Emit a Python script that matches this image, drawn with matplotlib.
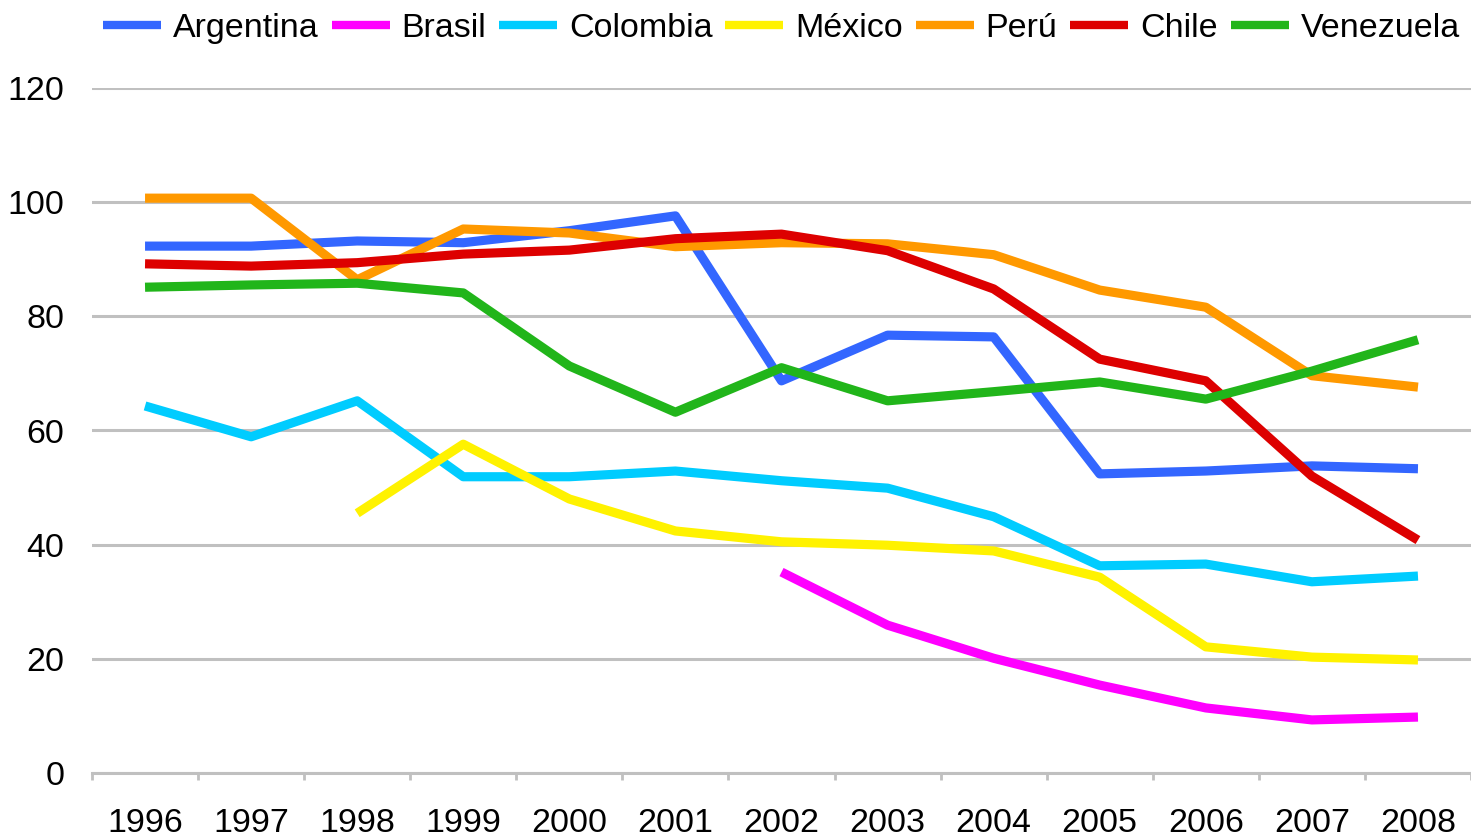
import numpy as np
from matplotlib import pyplot as plt

plt.rcParams['font.family'] = ['Liberation Sans', 'DejaVu Sans']

years = ['1996', '1997', '1998', '1999', '2000', '2001', '2002',
         '2003', '2004', '2005', '2006', '2007', '2008']

nan = np.nan
argentina = [92.3, 92.3, 93.2, 92.9, 95.0, 97.6, 68.7, 76.7, 76.4, 52.4, 52.9, 53.8, 53.3]
brasil = [nan, nan, nan, nan, nan, nan, 35.2, 25.9, 20.1, 15.4, 11.4, 9.3, 9.8]
colombia = [64.3, 58.9, 65.2, 51.9, 51.9, 52.9, 51.2, 49.9, 44.9, 36.3, 36.6, 33.5, 34.5]
mexico = [nan, nan, 45.5, 57.6, 48.0, 42.4, 40.5, 39.9, 38.9, 34.3, 22.1, 20.3, 19.8]
peru = [100.7, 100.7, 86.4, 95.3, 94.6, 92.2, 92.9, 92.7, 90.8, 84.6, 81.6, 69.6, 67.6]
chile = [89.2, 88.8, 89.4, 90.9, 91.6, 93.6, 94.4, 91.5, 84.8, 72.5, 68.7, 52.0, 40.8]
venezuela = [85.1, 85.5, 85.8, 84.1, 71.3, 63.2, 71.0, 65.2, 66.8, 68.5, 65.5, 70.4, 75.9]

series = [
    ('Argentina', argentina, '#3366FF'),
    ('Brasil', brasil, '#FF00FF'),
    ('Colombia', colombia, '#00CCFF'),
    ('México', mexico, '#FFF200'),
    ('Perú', peru, '#FF9900'),
    ('Chile', chile, '#DD0000'),
    ('Venezuela', venezuela, '#21B51A'),
]

fig = plt.figure(figsize=(14.71, 8.38), dpi=100)
ax = fig.add_axes([92 / 1471, 65 / 838, 1 - 92 / 1471, 685 / 838])

x = np.arange(len(years))
for name, vals, col in series:
    ax.plot(x, vals, color=col, lw=6.6, label=name,
            solid_joinstyle='round', solid_capstyle='butt')

ax.set_xlim(-0.5, len(years) - 0.5)
ax.set_ylim(0, 120)
ax.set_yticks(np.arange(0, 121, 20))
ax.yaxis.grid(True, color='#C0C0C0', lw=2.2)
ax.set_axisbelow(True)

for s in ['top', 'right', 'left']:
    ax.spines[s].set_visible(False)
ax.spines['bottom'].set_color('#C0C0C0')
ax.spines['bottom'].set_linewidth(2.2)

ax.set_xticks(x)
ax.set_xticklabels(years)
ax.set_xticks(np.arange(-0.5, len(years)), minor=True)
ax.tick_params(axis='x', which='major', length=0, pad=25, labelsize=24.5)
ax.tick_params(axis='x', which='minor', length=5, width=2, color='#C0C0C0')
ax.tick_params(axis='y', length=0, pad=20, labelsize=24.5)

leg = ax.legend(loc='upper center', bbox_to_anchor=(0.5, 1.13), ncol=7,
                frameon=False, fontsize=24.5, handlelength=1.7,
                handletextpad=0.35, columnspacing=0.38, borderaxespad=0)
for h in leg.get_lines():
    h.set_linewidth(6.0)

fig.savefig('out.png', dpi=100)
